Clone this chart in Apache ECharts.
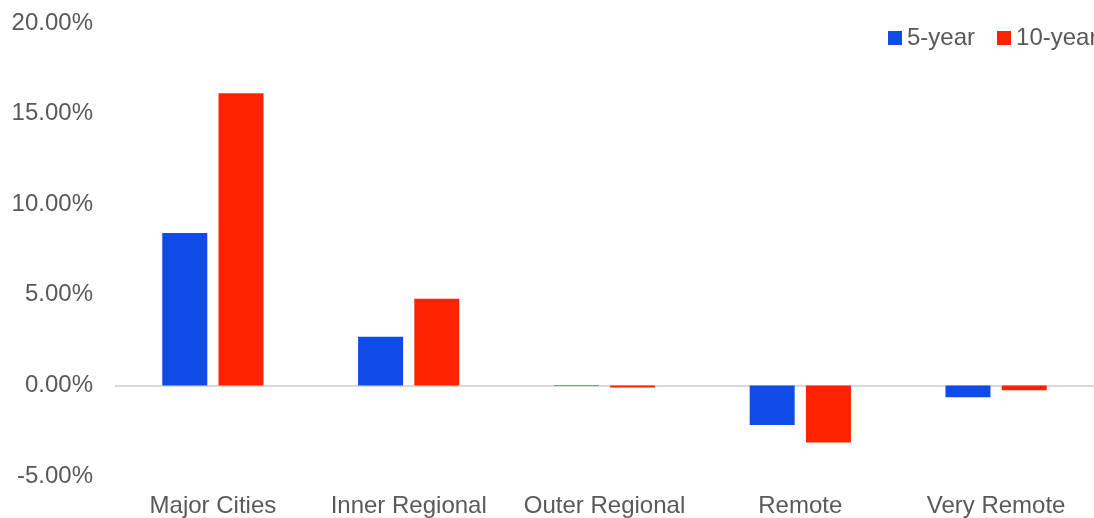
<!DOCTYPE html>
<html><head><meta charset="utf-8">
<script src="https://cdn.jsdelivr.net/npm/echarts@6/dist/echarts.min.js"></script>
<style>html,body{margin:0;padding:0;background:#fff}#c{width:1094px;height:518px}</style>
</head><body><div id="c"></div>
<script>
const categories = ['Major Cities', 'Inner Regional', 'Outer Regional', 'Remote', 'Very Remote'];
const fiveYear = [8.41, 2.69, -0.04, -2.19, -0.66];
const tenYear = [16.12, 4.78, -0.12, -3.15, -0.27];
const seriesNames = ['5-year', '10-year'];

const chart = echarts.init(document.getElementById('c'));
const font = 'Liberation Sans, Arial, sans-serif';
chart.setOption({
  animation: false,
  grid: { left: 115, top: 23, width: 987, height: 454 },
  legend: {
    orient: 'horizontal', left: 883, top: 21, width: 400,
    itemWidth: 14, itemHeight: 14, itemGap: 22, itemTextGap: 4,
    icon: 'rect',
    textStyle: { color: '#595959', fontSize: 24, fontFamily: font },
    data: seriesNames
  },
  xAxis: {
    type: 'category', data: categories,
    axisLine: { show: false, onZero: false }, axisTick: { show: false },
    axisLabel: { color: '#595959', fontSize: 24, fontFamily: font, margin: 18, interval: 0 }
  },
  yAxis: {
    type: 'value', min: -5, max: 20, interval: 5,
    axisLine: { show: false }, axisTick: { show: false }, splitLine: { show: false },
    axisLabel: { color: '#595959', fontSize: 24, fontFamily: font, margin: 22,
      formatter: v => v.toFixed(2) + '%' }
  },
  series: [
    { name: 'zero', type: 'line', data: [], z: 1, silent: true,
      markLine: { z: 1, silent: true, symbol: 'none', label: { show: false },
        lineStyle: { color: '#d9d9d9', type: 'solid', width: 2 }, data: [{ yAxis: 0 }] } },
    { name: seriesNames[0], type: 'bar', data: fiveYear, barWidth: 45, barGap: '25%', z: 3,
      itemStyle: { color: '#0F4BE6' } },
    { name: seriesNames[1], type: 'bar', data: tenYear, barWidth: 45, barGap: '25%', z: 3,
      itemStyle: { color: '#FF2200' } }
  ]
});
</script></body></html>
